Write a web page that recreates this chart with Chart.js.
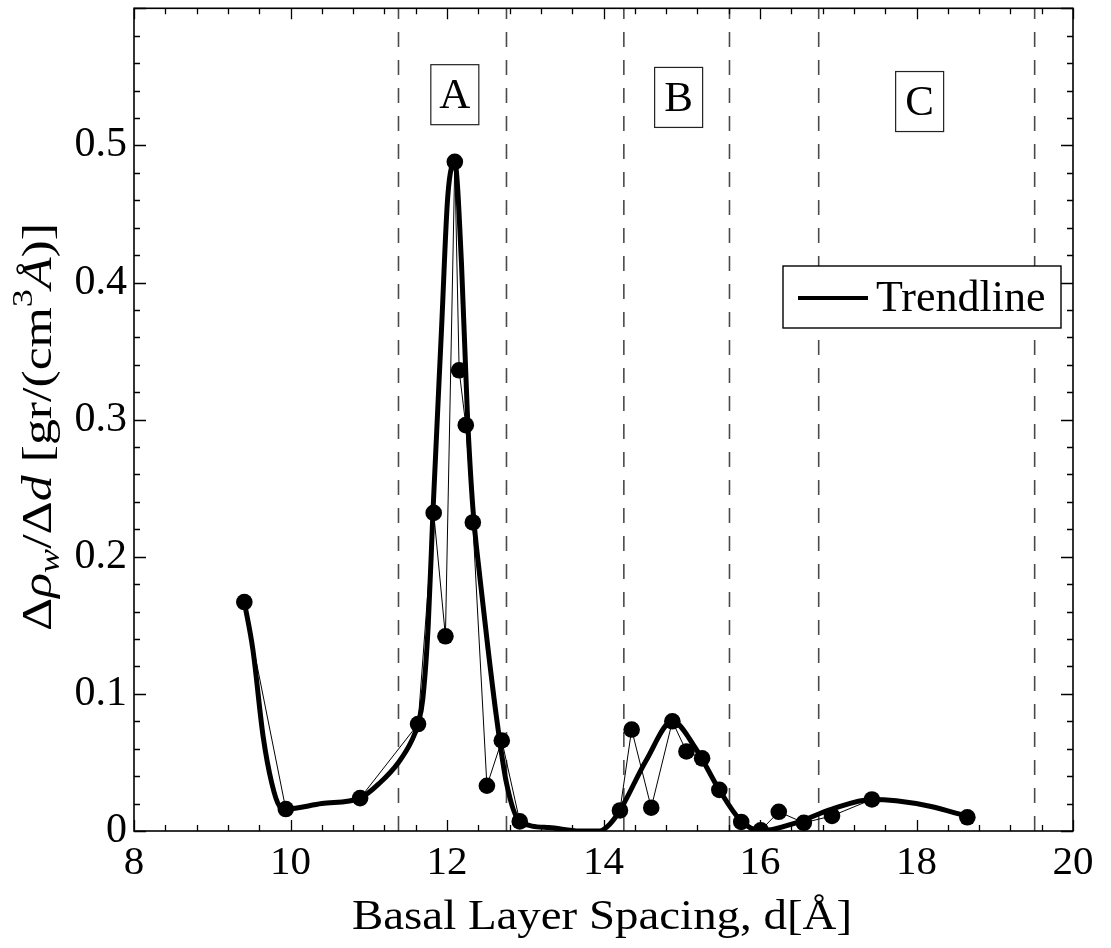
<!DOCTYPE html>
<html>
<head>
<meta charset="utf-8">
<script src="https://cdn.jsdelivr.net/npm/chart.js@4/dist/chart.umd.min.js"></script>
<style>
  html, body { margin: 0; padding: 0; background: #fff; }
  #c { display: block; }
</style>
</head>
<body>
<canvas id="c" width="1111" height="948"></canvas>
<script>
// ---------------- data ----------------
const measX = [9.41, 9.94, 10.89, 11.63, 11.83, 11.98, 12.10, 12.155, 12.24, 12.33, 12.51, 12.70, 12.93,
               14.21, 14.36, 14.61, 14.88, 15.06, 15.26, 15.48, 15.76, 16.01, 16.24, 16.56, 16.92, 17.43, 18.65];
const measY = [0.167, 0.016, 0.024, 0.078, 0.232, 0.142, 0.488, 0.336, 0.296, 0.225, 0.033, 0.066, 0.007,
               0.015, 0.074, 0.017, 0.080, 0.058, 0.053, 0.030, 0.0066, 0.0005, 0.014, 0.006, 0.011, 0.023, 0.010];

const trendX = [9.41, 9.52, 9.65, 9.76, 9.86, 9.94, 10.40, 10.89, 11.14, 11.38, 11.55, 11.63, 11.69, 11.76,
                11.82, 11.93, 12.01, 12.10, 12.185, 12.26, 12.33, 12.42, 12.52, 12.63, 12.76, 12.93, 13.30, 13.70,
                13.95, 14.08, 14.21, 14.55, 14.88, 15.18, 15.48, 15.74, 16.00, 16.46, 16.91, 17.43, 17.74,
                18.17, 18.65];
const trendY = [0.167, 0.132, 0.069, 0.035, 0.018, 0.016, 0.020, 0.024, 0.035, 0.050, 0.066, 0.078, 0.096, 0.15,
                0.232, 0.366, 0.463, 0.487, 0.414, 0.305, 0.236, 0.185, 0.135, 0.084, 0.035, 0.007, 0.0025, 0.0,
                0.0, 0.005, 0.015, 0.052, 0.080, 0.060, 0.030, 0.0085, 0.0, 0.006, 0.0158, 0.023, 0.022,
                0.018, 0.0107];

const regionBounds = [11.38, 12.76, 14.26, 15.61, 16.75, 19.51];
const regionNames  = ['A', 'B', 'C'];
const regionLabelX = [12.10, 14.96, 18.04];
const regionLabelY = [0.537, 0.535, 0.532];

const xTickValues = [8, 10, 12, 14, 16, 18, 20];
const yTickValues = [0, 0.1, 0.2, 0.3, 0.4, 0.5];

const xTitle = 'Basal Layer Spacing, d[Å]';
const trendLabel = 'Trendline';

// ---------------- build ----------------
const FONT = '"Liberation Serif", "Times New Roman", serif';
const toPts = (xs, ys) => xs.map((x, i) => ({ x: x, y: ys[i] }));

const datasets = [
  {
    label: 'Data',
    data: toPts(measX, measY),
    borderColor: '#000',
    backgroundColor: '#000',
    borderWidth: 1,
    pointRadius: 8.3,
    pointHoverRadius: 8.3,
    pointBackgroundColor: '#000',
    pointBorderWidth: 0,
    tension: 0,
    segment: {
      // no thin connector across the empty 13-14 gap
      borderColor: (c) => (c.p1.parsed.x - c.p0.parsed.x > 1) ? 'rgba(0,0,0,0)' : '#000'
    },
    order: 0
  },
  {
    label: trendLabel,
    data: toPts(trendX, trendY),
    borderColor: '#000',
    borderWidth: 5,
    pointRadius: 0,
    cubicInterpolationMode: 'monotone',
    order: 1
  }
];
regionBounds.forEach((b) => {
  datasets.push({
    label: 'bound',
    data: [{ x: b, y: 0 }, { x: b, y: 0.6 }],
    borderColor: '#4a4a4a',
    borderWidth: 1.6,
    borderDash: [15, 13],
    pointRadius: 0,
    order: 2
  });
});

const decoPlugin = {
  id: 'deco',
  afterDatasetsDraw(chart) {
    const ctx = chart.ctx, xs = chart.scales.x, ys = chart.scales.y;
    ctx.save();
    ctx.font = '43px ' + FONT;
    ctx.textAlign = 'center';
    ctx.textBaseline = 'middle';
    regionNames.forEach((n, i) => {
      const cx = xs.getPixelForValue(regionLabelX[i]);
      const cy = ys.getPixelForValue(regionLabelY[i]);
      ctx.fillStyle = '#fff';
      ctx.fillRect(cx - 24, cy - 30, 48, 60);
      ctx.strokeStyle = '#222';
      ctx.lineWidth = 1.2;
      ctx.strokeRect(cx - 24, cy - 30, 48, 60);
      ctx.fillStyle = '#000';
      ctx.fillText(n, cx, cy + 2);
    });
    ctx.restore();
  },
  afterDraw(chart) {
    const ctx = chart.ctx, xs = chart.scales.x, ys = chart.scales.y, a = chart.chartArea;
    ctx.save();
    ctx.strokeStyle = '#000';
    ctx.lineWidth = 1.3;
    ctx.beginPath();
    for (let i = 0; i <= 30; i++) {
      const v = 8 + i * 0.4;
      const L = (i % 5 === 0) ? 11 : 6;
      const px = Math.round(xs.getPixelForValue(v)) + 0.5;
      ctx.moveTo(px, a.bottom); ctx.lineTo(px, a.bottom - L);
      ctx.moveTo(px, a.top); ctx.lineTo(px, a.top + L);
    }
    for (let i = 0; i <= 30; i++) {
      const v = i * 0.02;
      const L = (i % 5 === 0) ? 12 : 6;
      const py = Math.round(ys.getPixelForValue(v)) + 0.5;
      ctx.moveTo(a.left, py); ctx.lineTo(a.left + L, py);
      ctx.moveTo(a.right, py); ctx.lineTo(a.right - L, py);
    }
    ctx.stroke();
    ctx.lineWidth = 1.6;
    ctx.strokeRect(a.left, a.top, a.right - a.left, a.bottom - a.top);

    // legend
    const ds = chart.data.datasets.find(d => d.label === trendLabel);
    ctx.fillStyle = '#fff';
    ctx.fillRect(783, 266, 278, 62);
    ctx.strokeStyle = '#000';
    ctx.lineWidth = 1.4;
    ctx.strokeRect(783, 266, 278, 62);
    ctx.beginPath();
    ctx.lineWidth = 4;
    ctx.strokeStyle = ds.borderColor;
    ctx.moveTo(798, 298); ctx.lineTo(868, 298);
    ctx.stroke();
    ctx.fillStyle = '#000';
    ctx.font = '44px ' + FONT;
    ctx.textAlign = 'left';
    ctx.textBaseline = 'middle';
    ctx.fillText(ds.label, 876, 299);

    // x title
    ctx.font = '42px ' + FONT;
    ctx.textAlign = 'center';
    ctx.textBaseline = 'alphabetic';
    const w = ctx.measureText(xTitle).width;
    ctx.save();
    ctx.translate(602, 929);
    ctx.scale(500 / w, 1);
    ctx.fillText(xTitle, 0, 0);
    ctx.restore();

    // y title with sub/superscripts
    const segs = [
      { t: 'Δ', it: false, s: 1, dy: 0 },
      { t: 'ρ', it: true, s: 1, dy: 0 },
      { t: 'w', it: true, s: 0.7, dy: 0.18 },
      { t: '/Δ', it: false, s: 1, dy: 0 },
      { t: 'd', it: true, s: 1, dy: 0 },
      { t: ' [gr/(cm', it: false, s: 1, dy: 0 },
      { t: '3', it: false, s: 0.7, dy: -0.45 },
      { t: 'Å', it: true, s: 1, dy: 0 },
      { t: ')]', it: false, s: 1, dy: 0 }
    ];
    const fs = 43;
    let total = 0;
    segs.forEach(sg => {
      ctx.font = (sg.it ? 'italic ' : '') + Math.round(fs * sg.s) + 'px ' + FONT;
      sg.w = ctx.measureText(sg.t).width;
      total += sg.w;
    });
    const target = 408;
    const sx = target / total;
    ctx.save();
    ctx.translate(51, 427 + target / 2);
    ctx.rotate(-Math.PI / 2);
    ctx.scale(sx, 1);
    ctx.textAlign = 'left';
    ctx.textBaseline = 'alphabetic';
    let pos = 0;
    segs.forEach(sg => {
      ctx.font = (sg.it ? 'italic ' : '') + Math.round(fs * sg.s) + 'px ' + FONT;
      ctx.fillText(sg.t, pos, sg.dy * fs);
      pos += sg.w;
    });
    ctx.restore();
    ctx.restore();
  }
};

new Chart(document.getElementById('c'), {
  type: 'line',
  data: { datasets: datasets },
  options: {
    responsive: false,
    devicePixelRatio: 1,
    animation: false,
    events: [],
    layout: { padding: { top: 8, right: 38, left: 0, bottom: 0 } },
    plugins: { legend: { display: false }, tooltip: { enabled: false } },
    scales: {
      x: {
        type: 'linear',
        min: 8, max: 20,
        afterFit: (s) => { s.height = 117; s.paddingLeft = 0; s.paddingRight = 0; },
        afterBuildTicks: (s) => { s.ticks = xTickValues.map(v => ({ value: v })); },
        grid: { display: false, drawTicks: false },
        border: { display: false },
        ticks: {
          padding: 8,
          color: '#000',
          font: { family: FONT, size: 41 },
          callback: (v) => String(v)
        }
      },
      y: {
        type: 'linear',
        min: 0, max: 0.6,
        afterFit: (s) => { s.width = 134; s.paddingTop = 0; s.paddingBottom = 0; },
        afterBuildTicks: (s) => { s.ticks = yTickValues.map(v => ({ value: v })); },
        grid: { display: false, drawTicks: false },
        border: { display: false },
        ticks: {
          padding: 7,
          color: '#000',
          font: { family: FONT, size: 42 },
          callback: (v) => String(Math.round(v * 10) / 10)
        }
      }
    }
  },
  plugins: [decoPlugin]
});
</script>
</body>
</html>
